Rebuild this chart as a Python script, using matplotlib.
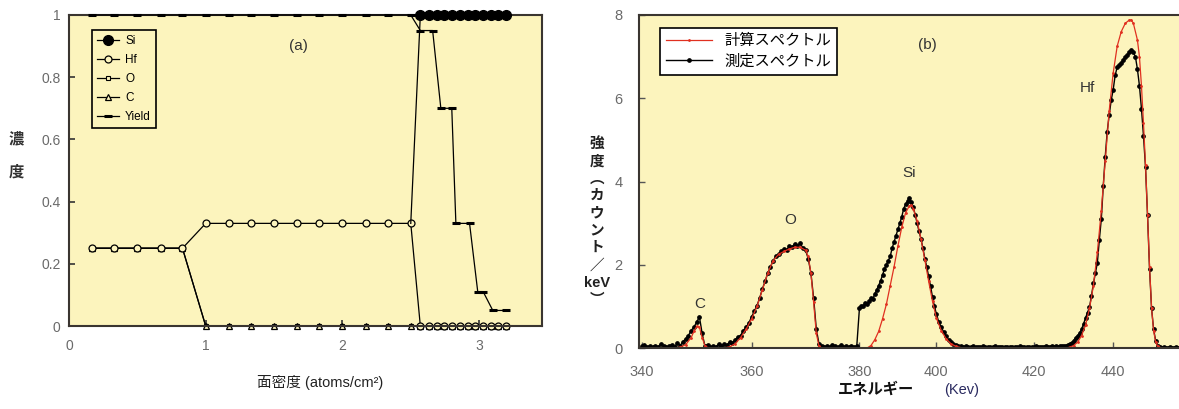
import numpy as np
import matplotlib
matplotlib.use('Agg')
import matplotlib.pyplot as plt

plt.rcParams['font.family'] = ['Liberation Sans', 'Noto Sans CJK JP', 'DejaVu Sans']

# ---- (a) depth profile ----
layer_x = [0.17, 0.33, 0.50, 0.67, 0.83, 1.00, 1.17, 1.33, 1.50, 1.67, 1.83, 2.00, 2.17, 2.33, 2.50]
sub_x = [2.57, 2.63, 2.69, 2.74, 2.80, 2.86, 2.92, 2.97, 3.03, 3.09, 3.14, 3.20]
prof_x = layer_x + sub_x

hf_conc = [0.25, 0.25, 0.25, 0.25, 0.25, 0.33, 0.33, 0.33, 0.33, 0.33, 0.33, 0.33, 0.33, 0.33, 0.33,
           0, 0, 0, 0, 0, 0, 0, 0, 0, 0, 0, 0]
o_conc = [0.25, 0.25, 0.25, 0.25, 0.25, 0, 0, 0, 0, 0, 0, 0, 0, 0, 0,
          0, 0, 0, 0, 0, 0, 0, 0, 0, 0, 0, 0]
c_conc = [0.25, 0.25, 0.25, 0.25, 0.25, 0, 0, 0, 0, 0, 0, 0, 0, 0, 0,
          0, 0, 0, 0, 0, 0, 0, 0, 0, 0, 0, 0]
si_x = [2.50] + sub_x
si_conc = [0.33, 1, 1, 1, 1, 1, 1, 1, 1, 1, 1, 1, 1]
yield_x = layer_x + [2.57, 2.66, 2.72, 2.80, 2.83, 2.93, 2.99, 3.03, 3.10, 3.20]
yield_val = [1, 1, 1, 1, 1, 1, 1, 1, 1, 1, 1, 1, 1, 1, 1,
             0.95, 0.95, 0.70, 0.70, 0.33, 0.33, 0.11, 0.11, 0.05, 0.05]

# ---- (b) RBS spectrum ----
meas_e = np.arange(340, 458.5, 0.5)
meas_i = [
    0.04, 0.08, 0.03, 0.05, 0.02, 0.06, 0.03, 0.10, 0.04, 0.02,   # 340
    0.05, 0.08, 0.03, 0.12, 0.06, 0.15, 0.22, 0.30, 0.42, 0.50,   # 345
    0.62, 0.75, 0.35, 0.05, 0.08, 0.02, 0.05, 0.03, 0.09, 0.04,   # 350
    0.10, 0.07, 0.14, 0.11, 0.20, 0.26, 0.30, 0.42, 0.50, 0.60,   # 355
    0.75, 0.88, 1.02, 1.20, 1.42, 1.60, 1.80, 1.95, 2.10, 2.20,   # 360
    2.25, 2.32, 2.38, 2.35, 2.45, 2.42, 2.50, 2.45, 2.52, 2.40,   # 365
    2.35, 2.15, 1.80, 1.20, 0.45, 0.10, 0.05, 0.02, 0.06, 0.03,   # 370
    0.08, 0.04, 0.02, 0.07, 0.03, 0.05, 0.02, 0.06, 0.03, 0.04,   # 375
    0.96, 1.02, 1.00, 1.08, 1.05, 1.12, 1.20, 1.18, 1.30, 1.40,   # 380
    1.50, 1.62, 1.75, 1.90, 2.00, 2.10, 2.20, 2.40, 2.55, 2.70,   # 385
    2.85, 3.00, 3.15, 3.35, 3.45, 3.52, 3.60, 3.50, 3.38, 3.20,   # 390
    3.00, 2.80, 2.62, 2.40, 2.15, 1.95, 1.72, 1.48, 1.22, 1.00,   # 395
    0.82, 0.62, 0.50, 0.38, 0.28, 0.20, 0.14, 0.10, 0.07, 0.05,   # 400
    0.04, 0.03, 0.05, 0.02, 0.03, 0.04, 0.02, 0.03, 0.02, 0.04,   # 405
    0.02, 0.03, 0.02, 0.02, 0.04, 0.02, 0.03, 0.02, 0.02, 0.03,   # 410
    0.02, 0.02, 0.03, 0.02, 0.04, 0.02, 0.02, 0.03, 0.02, 0.03,   # 415
    0.02, 0.04, 0.02, 0.03, 0.02, 0.03, 0.04, 0.02, 0.03, 0.04,   # 420
    0.03, 0.04, 0.03, 0.05, 0.04, 0.05, 0.06, 0.07, 0.10, 0.13,   # 425
    0.18, 0.25, 0.30, 0.36, 0.45, 0.58, 0.72, 0.85, 0.98, 1.25,   # 430
    1.55, 1.80, 2.05, 2.60, 3.10, 3.90, 4.60, 5.20, 5.60, 5.95,   # 435
    6.20, 6.55, 6.75, 6.80, 6.85, 6.92, 6.98, 7.03, 7.10, 7.16,   # 440
    7.10, 7.00, 6.70, 6.30, 5.75, 5.10, 4.35, 3.20, 1.90, 0.95,   # 445
    0.45, 0.18, 0.05, 0.02, 0.01, 0.02, 0.01, 0.01, 0.02, 0.01,   # 450
    0.01, 0.02, 0.01, 0.01, 0.02, 0.01, 0.01,                     # 455
]

calc_e = [340, 346, 347, 348, 349, 349.5, 350, 350.5, 351, 351.5, 352, 355, 356, 357, 358, 359,
          360, 361, 362, 363, 364, 365, 366, 367, 368, 369, 370, 370.5, 371, 371.5, 372, 372.5,
          373, 382, 383, 384, 385, 386, 387, 388, 389, 390, 391, 392, 393, 393.5, 394, 395, 396,
          397, 398, 399, 400, 401, 402, 403, 404, 405, 406, 428, 429, 430, 431, 432, 433, 434,
          435, 436, 437, 438, 439, 440, 441, 442, 443, 444, 444.5, 445, 446, 446.5, 447, 447.5,
          448, 448.5, 449, 449.5, 450, 450.5, 451, 452, 458]
calc_i = [0, 0, 0.02, 0.08, 0.25, 0.40, 0.52, 0.50, 0.25, 0.06, 0.01, 0, 0.03, 0.10, 0.25, 0.45,
          0.70, 1.00, 1.40, 1.80, 2.10, 2.25, 2.32, 2.38, 2.42, 2.42, 2.35, 2.20, 1.80, 1.10, 0.35, 0.05,
          0, 0, 0.06, 0.20, 0.40, 0.70, 1.05, 1.50, 1.95, 2.45, 2.90, 3.25, 3.42, 3.43, 3.35, 3.05, 2.62,
          2.12, 1.60, 1.12, 0.72, 0.42, 0.22, 0.10, 0.04, 0.01, 0, 0, 0.02, 0.06, 0.14, 0.30, 0.55, 0.95,
          1.50, 2.30, 3.30, 4.50, 5.70, 6.60, 7.25, 7.60, 7.80, 7.88, 7.88, 7.80, 7.40, 7.00, 6.30, 5.40,
          4.40, 3.20, 1.95, 0.95, 0.42, 0.15, 0.04, 0, 0]

peak_names = ['C', 'O', 'Si', 'Hf']
peak_e = [350.6, 367.2, 393.0, 433.5]
peak_i = [1.05, 3.08, 4.2, 6.25]

# the printed energy axis is not evenly spaced, follow it
axis_e = [320, 340, 360, 380, 400, 420, 440, 460]
axis_px = [531, 640, 750, 858, 935, 1033, 1112, 1193]


def fwd(e):
    return np.interp(e, axis_e, axis_px)


def inv(p):
    return np.interp(p, axis_px, axis_e)


W, H = 1179, 409
bg = '#fcf4bd'
tick_col = '#6a6a6a'
fig = plt.figure(figsize=(W / 100, H / 100), dpi=100)

# ---------- panel (a) ----------
ax1 = fig.add_axes([69 / W, 1 - 326 / H, 473 / W, 311 / H])
ax1.set_facecolor(bg)
ax1.plot(yield_x, yield_val, color='black', lw=0.9, marker='_', ms=6, mew=2.2, clip_on=False, label='Yield', zorder=3)
ax1.plot(prof_x, o_conc, color='black', lw=0.9, marker='s', ms=3, mfc=bg, mec='black', mew=0.8, clip_on=False, label='O')
ax1.plot(prof_x, c_conc, color='black', lw=0.9, marker='^', ms=5, mfc=bg, mec='black', mew=0.9, clip_on=False, label='C')
ax1.plot(prof_x, hf_conc, color='black', lw=0.9, marker='o', ms=5, mfc=bg, mec='black', mew=0.9, clip_on=False, label='Hf')
ax1.plot(si_x, si_conc, color='black', lw=0.9, marker='o', ms=7, mfc='black', mec='black', clip_on=False,
         markevery=list(range(1, len(si_x))), label='Si', zorder=4)
ax1.set_xlim(0, 3.46)
ax1.set_ylim(0, 1)
ax1.set_xticks([0, 1, 2, 3])
ax1.set_yticks([0, 0.2, 0.4, 0.6, 0.8, 1])
ax1.set_yticklabels(['0', '0.2', '0.4', '0.6', '0.8', '1'])
ax1.tick_params(direction='in', length=4, width=1.2, colors='#333333', labelcolor=tick_col, labelsize=10)
ax1.tick_params(axis='x', pad=9)
ax1.tick_params(axis='y', pad=6)
for s in ax1.spines.values():
    s.set_linewidth(1.5)
    s.set_color('#3a3530')
h, l = ax1.get_legend_handles_labels()
order = [l.index(n) for n in ['Si', 'Hf', 'O', 'C', 'Yield']]
leg1 = ax1.legend([h[i] for i in order], [l[i] for i in order], loc='upper left',
                  bbox_to_anchor=(0.049, 0.952), borderaxespad=0, fontsize=8.5, handlelength=1.9,
                  handletextpad=0.5, labelspacing=0.6, fancybox=False, framealpha=1, facecolor=bg,
                  edgecolor='black')
leg1.get_frame().set_linewidth(1.2)
ax1.text(1.68, 0.9, '(a)', fontsize=11, color='#333333', ha='center', va='center')
fig.text(320 / W, 1 - 382 / H, '面密度 (atoms/cm²)', fontsize=10.5, ha='center', va='center', color='#222222')
fig.text(16 / W, 1 - 156 / H, '濃\n度', fontsize=11, ha='center', va='center', linespacing=2.6,
         color='#333333', fontweight='bold')

# ---------- panel (b) ----------
ax2 = fig.add_axes([639 / W, 1 - 348 / H, 551 / W, 333 / H])
ax2.set_facecolor(bg)
ax2.set_xscale('function', functions=(fwd, inv))
ax2.plot(meas_e, meas_i, color='black', lw=1.0, marker='o', ms=2.4, label='測定スペクトル')
ax2.plot(calc_e, calc_i, color='#e03020', lw=0.9, marker='o', ms=1.0, label='計算スペクトル')
ax2.set_xlim(339.5, 459)
ax2.set_ylim(0, 8)
ax2.set_xticks([340, 360, 380, 400, 420, 440])
ax2.set_yticks([0, 2, 4, 6, 8])
ax2.tick_params(direction='in', length=4, width=1.0, colors='#555555', labelcolor=tick_col, labelsize=10.5)
ax2.tick_params(axis='x', pad=12)
ax2.tick_params(axis='y', pad=12)
for s in ax2.spines.values():
    s.set_linewidth(1.5)
    s.set_color('#3a3530')
h2, l2 = ax2.get_legend_handles_labels()
leg2 = ax2.legend([h2[1], h2[0]], [l2[1], l2[0]], loc='upper left', bbox_to_anchor=(0.038, 0.961),
                  borderaxespad=0, fontsize=11, handlelength=3, labelspacing=0.4,
                  fancybox=False, framealpha=1, facecolor='white', edgecolor='black')
leg2.get_frame().set_linewidth(1.2)
for name, e, i in zip(peak_names, peak_e, peak_i):
    ax2.text(e, i, name, fontsize=11, ha='center', va='center', color='#333333')
ax2.text(397.7, 7.28, '(b)', fontsize=11, ha='center', va='center', color='#333333')
fig.text(876 / W, 1 - 390 / H, 'エネルギー', fontsize=11, ha='center', va='center', color='#111111', fontweight='bold')
fig.text(962 / W, 1 - 390 / H, '(Kev)', fontsize=10.5, ha='center', va='center', color='#2a2a60')
fig.text(597 / W, 1 - 222 / H, '強\n度\n︵\nカ\nウ\nン\nト\n／\nkeV\n︶', fontsize=10.5, ha='center',
         va='center', linespacing=1.3, color='#222222', fontweight='bold')

fig.savefig('out.png', dpi=100)
